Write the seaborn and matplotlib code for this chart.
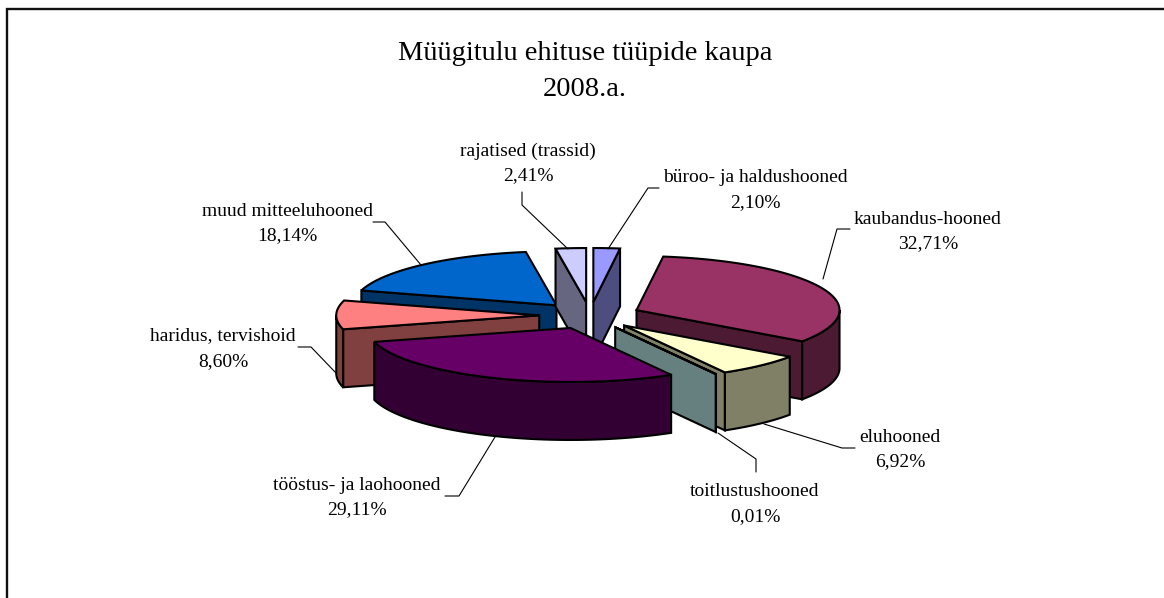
import numpy as np
import matplotlib
matplotlib.use("Agg")
import matplotlib.pyplot as plt
import seaborn as sns

title_lines = ["Müügitulu ehituse tüüpide kaupa", "2008.a."]
labels = ["büroo- ja haldushooned", "kaubandus-hooned", "eluhooned", "toitlustushooned",
          "tööstus- ja laohooned", "haridus, tervishoid", "muud mitteeluhooned", "rajatised (trassid)"]
values = [2.10, 32.71, 6.92, 0.01, 29.11, 8.60, 18.14, 2.41]
colors = ["#9999FF", "#993366", "#FFFFCC", "#CCFFFF", "#660066", "#FF8080", "#0066CC", "#CCCCFF"]

sns.set_theme(style="white")
plt.rcParams["font.family"] = ["Liberation Serif", "DejaVu Serif"]
palette = sns.color_palette(colors)

# pie geometry, in pixels of the picture
cx, cy = 590, 315.5
rx, ry = 203, 54
depth = 58
explode = 0.25
lw = 1.5

# back to front
draw_order = [6, 7, 0, 1, 5, 2, 3, 4]

# label centre x, y of first line, y of second line, leader line
label_pos = [
    (755, 178, 203, [(659, 188), (648, 188), (608, 249)]),
    (928, 219, 244, [(850, 229), (837, 229), (823, 279)]),
    (900, 437, 462, [(855, 448), (842, 448), (764, 424)]),
    (755, 491, 517, [(756, 472), (756, 459), (718, 433)]),
    (357, 485, 510, [(445, 496), (459, 496), (495, 437)]),
    (223, 336, 362, [(298, 347), (311, 347), (336, 373)]),
    (287, 211, 236, [(373, 222), (385, 222), (421, 265)]),
    (528, 151, 176, [(522, 192), (522, 205), (568, 249)]),
]

fig = plt.figure(figsize=(11.64, 5.98), dpi=100)
ax = fig.add_axes([0, 0, 1, 1])
ax.set_xlim(0, 1164)
ax.set_ylim(598, 0)
ax.axis("off")

# chart border, only top and left fall inside the picture
ax.plot([7, 7, 1164], [598, 9, 9], color="#111111", lw=1.7, solid_joinstyle="miter")

edges = np.concatenate([[0], np.cumsum(values)]) / np.sum(values) * 360


def rim(theta):
    t = np.radians(theta)
    return rx * np.sin(t), -ry * np.cos(t)


def face(xs, ys, color, z):
    ax.fill(xs, ys, facecolor=color, edgecolor="black", lw=lw, joinstyle="miter", zorder=z)


for z, i in enumerate(draw_order):
    t1, t2 = edges[i], edges[i + 1]
    mx, my = rim((t1 + t2) / 2)
    ax0, ay0 = cx + explode * mx, cy + explode * my
    top = np.array(palette[i])
    side = top * 0.5
    z = z * 10 + 2

    # cut faces turned to the viewer
    for t, seen in [(t1, np.sin(np.radians(t1)) < 0), (t2, np.sin(np.radians(t2)) > 0)]:
        if seen:
            ex, ey = rim(t)
            face([ax0, ax0 + ex, ax0 + ex, ax0],
                 [ay0, ay0 + ey, ay0 + ey + depth, ay0 + depth], side, z)

    # outer wall, front half only
    a, b = max(t1, 90), min(t2, 270)
    if b > a:
        th = np.linspace(a, b, 80)
        ex, ey = rim(th)
        face(np.r_[ax0 + ex, (ax0 + ex)[::-1]],
             np.r_[ay0 + ey, (ay0 + ey + depth)[::-1]], side, z + 1)

    # top
    th = np.linspace(t1, t2, 120)
    ex, ey = rim(th)
    face(np.r_[ax0, ax0 + ex], np.r_[ay0, ay0 + ey], top, z + 2)

for name, val, (x, y1, y2, line) in zip(labels, values, label_pos):
    pct = f"{val:.2f}%".replace(".", ",")
    ax.text(x, y1, name, ha="center", va="center", fontsize=14, color="black")
    ax.text(x, y2, pct, ha="center", va="center", fontsize=14, color="black")
    xs, ys = zip(*line)
    ax.plot(xs, ys, color="black", lw=0.8, zorder=200)

ax.text(585, 54, title_lines[0], ha="center", va="center", fontsize=20.5, color="black")
ax.text(585, 90, title_lines[1], ha="center", va="center", fontsize=20.5, color="black")

fig.savefig("out.png", dpi=100, facecolor="white")
